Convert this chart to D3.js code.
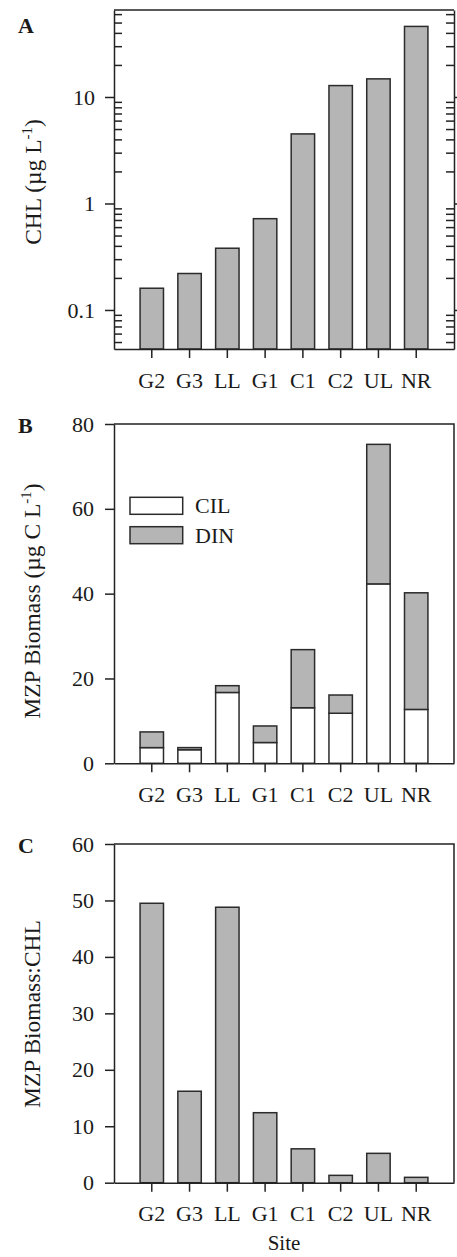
<!DOCTYPE html>
<html>
<head>
<meta charset="utf-8">
<script src="https://cdnjs.cloudflare.com/ajax/libs/d3/7.8.5/d3.min.js"></script>
<style>
  body { margin: 0; background: white; }
  text { font-family: "Liberation Serif", "Times New Roman", serif; fill: #1a1a1a; }
  .domain, .tick line { stroke: #222; stroke-width: 1.5px; }
</style>
</head>
<body>
<div id="chart"></div>
<script>
// sites and values
var sites = ["G2", "G3", "LL", "G1", "C1", "C2", "UL", "NR"];
var chl = [0.16, 0.22, 0.38, 0.72, 4.5, 12.8, 14.8, 46];          // panel A, ug/L
var cil = [3.7, 3.2, 16.7, 4.9, 13.1, 11.8, 42.3, 12.7];          // panel B, ciliates
var din = [3.7, 0.5, 1.6, 3.9, 13.7, 4.3, 32.9, 27.5];            // panel B, dinoflagellates
var ratio = [49.5, 16.2, 48.8, 12.4, 6.0, 1.3, 5.2, 0.95];        // panel C
var majorLogTicks = [0.1, 1, 10];
var seriesB = ["CIL", "DIN"];

var W = 457, H = 1257;
var left = 114, right = 454;
var barFill = "#b5b5b5", barStroke = "#2b2b2b";

var svg = d3.select("#chart").append("svg")
    .attr("width", W)
    .attr("height", H);

var x = d3.scaleBand()
    .domain(sites)
    .range([left, right])
    .paddingInner(0.38)
    .paddingOuter(0.69);

function drawXAxis(g, y0, pad) {
    var ax = g.append("g")
        .attr("transform", "translate(0," + y0 + ")")
        .call(d3.axisBottom(x).tickSize(9).tickSizeOuter(0).tickPadding(pad));
    ax.selectAll("text").style("font-size", "22px");
    return ax;
}

function yTitle(g, cx, cy, parts) {
    var t = g.append("text")
        .attr("transform", "translate(" + cx + "," + cy + ") rotate(-90)")
        .attr("text-anchor", "middle")
        .style("font-size", "23.5px");
    parts.forEach(function(p) {
        var s = t.append("tspan").text(p.t);
        if (p.sup) s.attr("dy", -9).style("font-size", "15px");
        if (p.down) s.attr("dy", 9);
    });
}

function panelLetter(txt, yb) {
    svg.append("text")
        .attr("x", 18).attr("y", yb)
        .style("font-size", "22px")
        .style("font-weight", "bold")
        .text(txt);
}

// ---------- Panel A (log scale) ----------
var gA = svg.append("g");
var yA = d3.scaleLog().domain([0.043, 65.6]).range([349, 10]);
var minorA = yA.ticks().filter(function(d) {
    return majorLogTicks.indexOf(+d3.format(".1g")(d)) < 0;
});

gA.selectAll(".bar")
    .data(chl)
    .enter().append("rect")
        .attr("x", function(d, i) { return x(sites[i]); })
        .attr("y", function(d) { return yA(d); })
        .attr("width", x.bandwidth())
        .attr("height", function(d) { return 349 - yA(d); })
        .attr("fill", barFill)
        .attr("stroke", barStroke)
        .attr("stroke-width", 1.5);

var axA = gA.append("g")
    .attr("transform", "translate(" + left + ",0)")
    .call(d3.axisLeft(yA).tickValues(majorLogTicks).tickSize(9).tickSizeOuter(0)
        .tickPadding(10).tickFormat(d3.format("~g")));
axA.selectAll("text").style("font-size", "22px");
gA.append("g")
    .attr("transform", "translate(" + left + ",0)")
    .call(d3.axisLeft(yA).tickValues(minorA).tickSize(-8).tickSizeOuter(0).tickFormat(""))
    .select(".domain").remove();

gA.append("g")
    .attr("transform", "translate(" + right + ",0)")
    .call(d3.axisRight(yA).tickValues(majorLogTicks).tickSize(9).tickSizeOuter(0).tickFormat(""));
gA.append("g")
    .attr("transform", "translate(" + right + ",0)")
    .call(d3.axisRight(yA).tickValues(minorA).tickSize(-8).tickSizeOuter(0).tickFormat(""))
    .select(".domain").remove();

gA.append("line")
    .attr("x1", left).attr("x2", right)
    .attr("y1", 10).attr("y2", 10)
    .attr("stroke", "#222").attr("stroke-width", 1.5);
drawXAxis(gA, 349, 14);
yTitle(gA, 41, 182, [{t: "CHL (µg L"}, {t: "-1", sup: true}, {t: ")", down: true}]);
panelLetter("A", 33);

// ---------- Panel B (stacked) ----------
var gB = svg.append("g");
var yB = d3.scaleLinear().domain([0, 80]).range([763.3, 424]);
var tableB = sites.map(function(s, i) { return {site: s, CIL: cil[i], DIN: din[i]}; });
var stackB = d3.stack().keys(seriesB)(tableB);
var colorB = d3.scaleOrdinal().domain(seriesB).range(["white", barFill]);

gB.selectAll(".layer")
    .data(stackB)
    .enter().append("g")
        .attr("fill", function(d) { return colorB(d.key); })
    .selectAll("rect")
    .data(function(d) { return d; })
    .enter().append("rect")
        .attr("x", function(d) { return x(d.data.site); })
        .attr("y", function(d) { return yB(d[1]); })
        .attr("width", x.bandwidth())
        .attr("height", function(d) { return yB(d[0]) - yB(d[1]); })
        .attr("stroke", barStroke)
        .attr("stroke-width", 1.5);

var axB = gB.append("g")
    .attr("transform", "translate(" + left + ",0)")
    .call(d3.axisLeft(yB).ticks(4).tickSize(9).tickSizeOuter(0).tickPadding(11));
axB.selectAll("text").style("font-size", "22px");
gB.append("path")
    .attr("d", "M" + left + "," + yB(80) + "H" + right + "V" + yB(0))
    .attr("fill", "none").attr("stroke", "#222").attr("stroke-width", 1.5);
drawXAxis(gB, 763.3, 14);
yTitle(gB, 40, 601, [{t: "MZP Biomass (µg C L"}, {t: "-1", sup: true}, {t: ")", down: true}]);
panelLetter("B", 433);

// legend
var legB = gB.selectAll(".legend")
    .data(seriesB)
    .enter().append("g")
        .attr("transform", function(d, i) { return "translate(130," + (497.3 + i * 29.4) + ")"; });
legB.append("rect")
    .attr("width", 52.7).attr("height", 17)
    .attr("fill", function(d) { return colorB(d); })
    .attr("stroke", barStroke).attr("stroke-width", 1.5);
legB.append("text")
    .attr("x", 65).attr("y", 16)
    .style("font-size", "22px")
    .text(function(d) { return d; });

// ---------- Panel C ----------
var gC = svg.append("g");
var yC = d3.scaleLinear().domain([0, 60]).range([1182.7, 844]);

gC.selectAll(".bar")
    .data(ratio)
    .enter().append("rect")
        .attr("x", function(d, i) { return x(sites[i]); })
        .attr("y", function(d) { return yC(d); })
        .attr("width", x.bandwidth())
        .attr("height", function(d) { return yC(0) - yC(d); })
        .attr("fill", barFill)
        .attr("stroke", barStroke)
        .attr("stroke-width", 1.5);

var axC = gC.append("g")
    .attr("transform", "translate(" + left + ",0)")
    .call(d3.axisLeft(yC).ticks(6).tickSize(9).tickSizeOuter(0).tickPadding(11));
axC.selectAll("text").style("font-size", "22px");
gC.append("path")
    .attr("d", "M" + left + "," + yC(60) + "H" + right + "V" + yC(0))
    .attr("fill", "none").attr("stroke", "#222").attr("stroke-width", 1.5);
drawXAxis(gC, 1182.7, 14);
yTitle(gC, 40, 1014, [{t: "MZP Biomass:CHL"}]);
panelLetter("C", 853);

gC.append("text")
    .attr("x", (left + right) / 2)
    .attr("y", 1250)
    .attr("text-anchor", "middle")
    .style("font-size", "21px")
    .text("Site");
</script>
</body>
</html>
